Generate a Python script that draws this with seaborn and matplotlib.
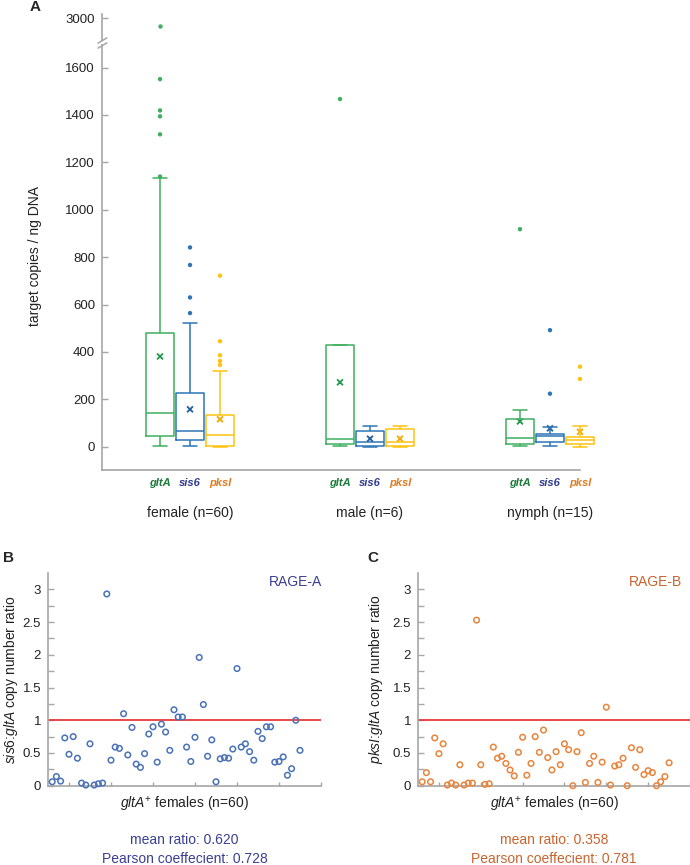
import numpy as np
import pandas as pd
import matplotlib
matplotlib.use("Agg")
import matplotlib.pyplot as plt
import matplotlib.transforms as mtransforms
import seaborn as sns

sns.set_theme(style="white")
plt.rcParams['font.family'] = ['Liberation Sans', 'DejaVu Sans']
plt.rcParams['mathtext.fontset'] = 'custom'
plt.rcParams['mathtext.rm'] = 'Liberation Sans'
plt.rcParams['mathtext.it'] = 'Liberation Sans:italic'
plt.rcParams['mathtext.bf'] = 'Liberation Sans:bold'

# ---------------- Panel A data ----------------
groups = ["female (n=60)", "male (n=6)", "nymph (n=15)"]
genes = ["gltA", "sis6", "pksI"]
# five-number summaries: [whisker low, Q1, median, Q3, whisker high]
female_gltA = [4, 46, 141, 480, 1135]
female_sis6 = [2, 27, 68, 227, 523]
female_pksI = [0, 4, 48, 132, 321]
male_gltA = [3, 11, 31, 429, 429]
male_sis6 = [0, 3, 19, 66, 89]
male_pksI = [0, 3, 19, 73, 87]
nymph_gltA = [3, 11, 35, 116, 156]
nymph_sis6 = [3, 19, 44, 55, 82]
nymph_pksI = [0, 11, 30, 42, 87]
# means (x markers)
female_means = [381, 158, 116]
male_means = [272, 34, 34]
nymph_means = [107, 78, 63]
# outliers
female_gltA_out = [1140, 1318, 1394, 1419, 1551, 2966]
female_sis6_out = [564, 630, 767, 841]
female_pksI_out = [345, 362, 386, 445, 722]
male_gltA_out = [1467]
nymph_gltA_out = [918]
nymph_sis6_out = [224, 492]
nymph_pksI_out = [286, 338]

# ---------------- Panels B, C data ----------------
sis6_ratio = [0.06, 0.14, 0.07, 0.73, 0.48, 0.75, 0.42, 0.04, 0.01, 0.64,
              0.01, 0.03, 0.04, 2.93, 0.39, 0.59, 0.57, 1.10, 0.47, 0.89,
              0.33, 0.28, 0.49, 0.79, 0.90, 0.36, 0.94, 0.82, 0.54, 1.16,
              1.05, 1.05, 0.59, 0.37, 0.74, 1.96, 1.24, 0.45, 0.70, 0.06,
              0.41, 0.43, 0.42, 0.56, 1.79, 0.59, 0.64, 0.52, 0.39, 0.83,
              0.72, 0.90, 0.90, 0.36, 0.37, 0.44, 0.16, 0.26, 1.00, 0.54]
pksI_ratio = [0.06, 0.20, 0.06, 0.73, 0.49, 0.64, 0.01, 0.04, 0.01, 0.32,
              0.01, 0.04, 0.04, 2.53, 0.32, 0.02, 0.03, 0.59, 0.42, 0.45,
              0.34, 0.24, 0.15, 0.51, 0.74, 0.16, 0.34, 0.75, 0.51, 0.85,
              0.43, 0.24, 0.52, 0.32, 0.64, 0.55, 0.00, 0.52, 0.81, 0.05,
              0.34, 0.45, 0.05, 0.36, 1.20, 0.01, 0.30, 0.32, 0.42, 0.00,
              0.58, 0.28, 0.55, 0.17, 0.23, 0.20, 0.00, 0.06, 0.14, 0.35]
female_index = list(range(1, 61))

# ---------------- styles ----------------
box_colors = {"gltA": "#3fae5e", "sis6": "#2e75b6", "pksI": "#ffc20e"}
mean_colors = {"gltA": "#22994a", "sis6": "#1f5f9e", "pksI": "#f2a900"}
label_colors = {"gltA": "#1d7a3a", "sis6": "#2f3a8f", "pksI": "#e07b22"}
GREY = "#a6a6a6"
BOX_W = 0.5

W, H = 690, 865
fig = plt.figure(figsize=(W / 100, H / 100), dpi=100)


def axes_px(l, t, r, b):
    return fig.add_axes([l / W, 1 - b / H, (r - l) / W, (b - t) / H])


def ftext(x, y, s, **kw):
    fig.text(x / W, 1 - y / H, s, **kw)


# ---------------- build tables ----------------
box_table = {
    ("female (n=60)", "gltA"): female_gltA, ("female (n=60)", "sis6"): female_sis6,
    ("female (n=60)", "pksI"): female_pksI, ("male (n=6)", "gltA"): male_gltA,
    ("male (n=6)", "sis6"): male_sis6, ("male (n=6)", "pksI"): male_pksI,
    ("nymph (n=15)", "gltA"): nymph_gltA, ("nymph (n=15)", "sis6"): nymph_sis6,
    ("nymph (n=15)", "pksI"): nymph_pksI,
}
rows = []
for (g, gene), vals in box_table.items():
    for v in vals:
        rows.append({"group": g, "gene": gene, "value": v})
df_box = pd.DataFrame(rows)


def dodge_x(g, gene):
    return groups.index(g) + (genes.index(gene) - 1) * BOX_W / len(genes)


out_table = {
    ("female (n=60)", "gltA"): female_gltA_out, ("female (n=60)", "sis6"): female_sis6_out,
    ("female (n=60)", "pksI"): female_pksI_out, ("male (n=6)", "gltA"): male_gltA_out,
    ("nymph (n=15)", "gltA"): nymph_gltA_out, ("nymph (n=15)", "sis6"): nymph_sis6_out,
    ("nymph (n=15)", "pksI"): nymph_pksI_out,
}
orows = []
for (g, gene), vals in out_table.items():
    for v in vals:
        orows.append({"x": dodge_x(g, gene), "gene": gene, "value": v})
df_out = pd.DataFrame(orows)

mrows = []
for g, ms in zip(groups, [female_means, male_means, nymph_means]):
    for gene, m in zip(genes, ms):
        mrows.append({"x": dodge_x(g, gene), "gene": gene, "value": m})
df_mean = pd.DataFrame(mrows)

# ---------------- Panel A ----------------
axA = axes_px(102, 45, 600, 470)
axT = axes_px(102, 14, 600, 40)

sns.boxplot(data=df_box, x="group", y="value", hue="gene", order=groups,
            hue_order=genes, palette=box_colors, fill=False, width=BOX_W,
            gap=0.08, whis=(0, 100), showfliers=False, linewidth=1.1,
            saturation=1, legend=False, ax=axA)
sns.scatterplot(data=df_out[df_out["value"] < 2000], x="x", y="value", hue="gene",
                hue_order=genes, palette=box_colors, s=10, linewidth=0,
                legend=False, ax=axA)
sns.scatterplot(data=df_mean, x="x", y="value", hue="gene", hue_order=genes,
                palette=mean_colors, marker="x", s=18, linewidth=1.3,
                legend=False, ax=axA)
sns.scatterplot(data=df_out[df_out["value"] >= 2000], x="x", y="value", hue="gene",
                hue_order=genes, palette=box_colors, s=10, linewidth=0,
                legend=False, ax=axT)

xl = (-0.489, 2.278)
for ax in (axA, axT):
    ax.set_xlim(*xl)
    ax.set_xlabel("")
    ax.set_ylabel("")
    ax.set_xticks([])
    for s in ("top", "right"):
        ax.spines[s].set_visible(False)
    ax.spines["left"].set_color(GREY)
    ax.spines["left"].set_linewidth(1.2)
    ax.tick_params(axis="y", direction="in", length=4, width=1, color=GREY,
                   labelsize=9.5, pad=5, labelcolor="#222222", left=True)

axA.set_ylim(-98, 1695)
axA.set_yticks(list(range(0, 1601, 200)))
axA.spines["bottom"].set_color(GREY)
axA.spines["bottom"].set_linewidth(1.2)
axA.spines["bottom"].set_bounds(-0.489, 2.167)

axT.set_ylim(2907, 3017)
axT.set_yticks([3000])
axT.spines["bottom"].set_visible(False)

# break marks
for ax, yy in ((axA, 1.0), (axT, 0.0)):
    ax.plot([0], [yy], marker=[(-1, -0.6), (1, 0.6)], markersize=7,
            linestyle="none", color=GREY, mew=1.1, transform=ax.transAxes,
            clip_on=False)

# gene labels and group labels
trans = mtransforms.blended_transform_factory(axA.transData, axA.transAxes)
for gi, g in enumerate(groups):
    for gene in genes:
        axA.text(dodge_x(g, gene), -0.031, gene, transform=trans, ha="center",
                 va="center", fontsize=8, fontweight="bold", fontstyle="italic",
                 color=label_colors[gene])
    axA.text(gi, -0.101, g, transform=trans, ha="center", va="center",
             fontsize=10, color="#222222")

ftext(35, 256, "target copies / ng DNA", rotation=90, ha="center", va="center",
      fontsize=10, color="#222222")
ftext(35, 7, "A", ha="center", va="center", fontsize=11, fontweight="bold")

# ---------------- Panels B and C ----------------
panels = [
    dict(box=(48, 573, 321, 785.7), y=sis6_ratio, pc="#4a72b8", tc="#3b3f94",
         tag="RAGE-A", tagx=0.905, ylab=r"$\it{sis6}$:$\it{gltA}$ copy number ratio",
         ylx=11, letter="B", lx=8, mean="mean ratio: 0.620",
         pear="Pearson coeffecient: 0.728"),
    dict(box=(418, 573, 690, 785.7), y=pksI_ratio, pc="#e8843c", tc="#c8642e",
         tag="RAGE-B", tagx=0.875, ylab=r"$\it{pksI}$:$\it{gltA}$ copy number ratio",
         ylx=376, letter="C", lx=373, mean="mean ratio: 0.358",
         pear="Pearson coeffecient: 0.781"),
]
for p in panels:
    l, t, r, b = p["box"]
    ax = axes_px(l, t, r, b)
    ax.axhline(1, color="#e83a3a", lw=1.3, zorder=1)
    sns.scatterplot(x=female_index, y=p["y"], ax=ax, marker="o", s=16,
                    color=p["pc"], facecolor="none", edgecolor=p["pc"],
                    linewidth=1.1, clip_on=False, zorder=3)
    ax.set_xlim(0, 65)
    ax.set_ylim(0, 3.25)
    ax.set_yticks([0, 0.5, 1, 1.5, 2, 2.5, 3])
    ax.set_yticklabels(["0", "0.5", "1", "1.5", "2", "2.5", "3"])
    ax.set_yticks(np.arange(0.25, 3.2, 0.5), minor=True)
    ax.set_xticks([])
    ax.set_xticks([5, 15, 25, 35, 45, 55, 65], minor=True)
    for s in ("top", "right"):
        ax.spines[s].set_visible(False)
    for s in ("left", "bottom"):
        ax.spines[s].set_color(GREY)
        ax.spines[s].set_linewidth(1.2)
    ax.tick_params(axis="y", which="both", direction="in", length=4, width=1,
                   color=GREY, labelsize=9.5, pad=5, labelcolor="#222222", left=True)
    ax.tick_params(axis="x", which="minor", direction="in", length=3, width=1,
                   color=GREY, bottom=True)
    ax.text(p["tagx"], 0.958, p["tag"], transform=ax.transAxes, ha="center",
            va="center", fontsize=10, color=p["tc"])
    cx = (l + r) / 2
    ftext(cx, 805, r"$\it{gltA}^{+}$ females (n=60)", ha="center", va="center",
          fontsize=10, color="#222222")
    ftext(cx, 840, p["mean"], ha="center", va="center", fontsize=10, color=p["tc"])
    ftext(cx, 859, p["pear"], ha="center", va="center", fontsize=10, color=p["tc"])
    ftext(p["ylx"], (t + b) / 2, p["ylab"], rotation=90, ha="center", va="center",
          fontsize=10, color="#222222")
    ftext(p["lx"], 558, p["letter"], ha="center", va="center", fontsize=11,
          fontweight="bold")

fig.savefig("out.png", dpi=100)
